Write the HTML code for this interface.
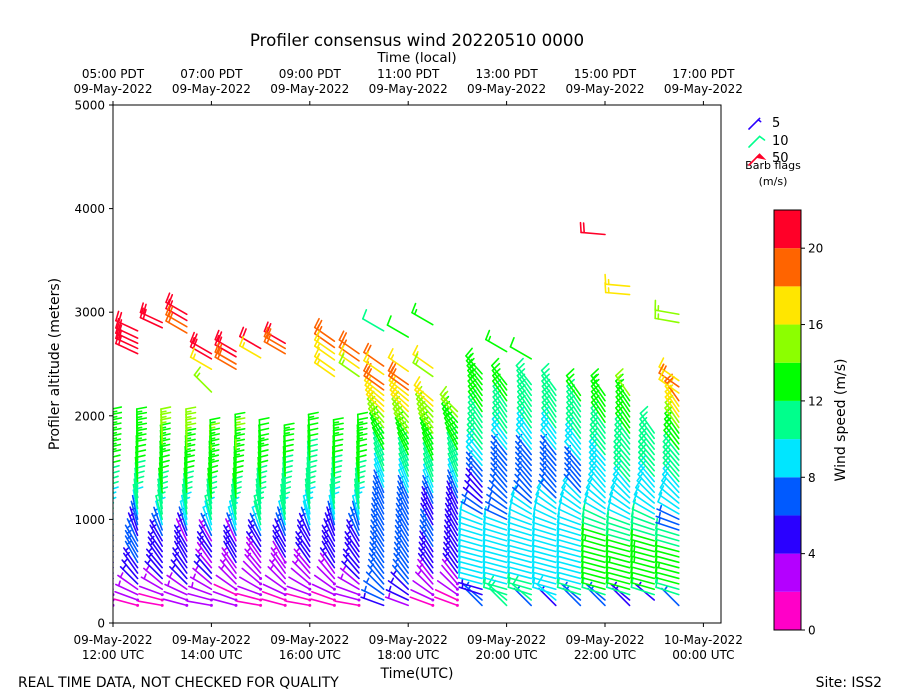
<!DOCTYPE html>
<html><head><meta charset="utf-8"><style>
body{margin:0;background:#fff;}
svg{display:block;font-family:"DejaVu Sans","Liberation Sans",sans-serif;}
</style></head><body>
<svg id="chart" width="900" height="700" viewBox="0 0 900 700" xmlns="http://www.w3.org/2000/svg">
<defs><clipPath id="pc"><rect x="113" y="105" width="608" height="518"/></clipPath></defs>
<text x="417" y="46" font-size="16.7" text-anchor="middle">Profiler consensus wind 20220510 0000</text>
<text x="417" y="62" font-size="13.5" text-anchor="middle">Time (local)</text>
<text x="417" y="678" font-size="14" text-anchor="middle">Time(UTC)</text>
<text x="18" y="687" font-size="13.9">REAL TIME DATA, NOT CHECKED FOR QUALITY</text>
<text x="882" y="687" font-size="13.9" text-anchor="end">Site: ISS2</text>
<text transform="translate(59,364) rotate(-90)" font-size="14" text-anchor="middle">Profiler altitude (meters)</text>
<text transform="translate(845,420) rotate(-90)" font-size="14" text-anchor="middle">Wind speed (m/s)</text>
<g id="barbs" clip-path="url(#pc)"></g>
<rect x="113" y="105" width="608" height="518" fill="none" stroke="#000" stroke-width="1"/>
<g id="axes"></g>
<g id="cbar"></g>
<g id="legend">
<text x="772" y="127" font-size="13">5</text>
<text x="772" y="145" font-size="13">10</text>
<text x="772" y="162" font-size="13">50</text>
<text x="773" y="169" font-size="11" text-anchor="middle">Barb flags</text>
<text x="773" y="185" font-size="11" text-anchor="middle">(m/s)</text>
</g>
</svg>
<script>
// ---- data ----
const colTimes = [0,0.5,1,1.5,2,2.5,3,3.5,4,4.5,5,5.5,6,6.5,7,7.5,8,8.5,9,9.5,10,10.5,11,11.5]; // hours after 12 UTC
const gateBase = 170, gateStep = 52;
const spd = [
[2,2,2,3,3,4,4,5,5,6,6,6,7,7,8,8,9,9,10,10,11,11,12,12,12,13,13,13,13,13,13,13,13],
[1,2,3,3,4,5,5,5,6,6,6,6,6,5,5,6,7,9,10,10,11,11,11,12,12,12,12,13,13,13,13,13,13],
[1,1,2,3,3,4,4,5,5,5,4,4,5,6,7,9,10,10,11,11,11,12,12,12,12,13,13,13,13,13,14,14,14],
[2,2,3,3,4,4,4,5,5,5,4,4,3,4,6,8,9,10,11,11,11,12,12,12,13,13,13,13,13,14,14,15,15],
[2,2,3,3,3,4,4,3,3,4,4,4,3,6,8,9,10,10,11,11,12,12,12,13,13,13,13,13,13,14,13,null,null],
[2,2,1,2,3,3,3,3,4,4,5,5,3,6,8,9,10,11,11,11,12,12,12,12,13,13,13,13,13,14,14,13,null],
[1,1,2,2,2,2,3,3,3,3,4,4,5,6,8,10,11,11,11,11,11,11,12,12,12,12,13,13,12,12,12,null,null],
[1,1,2,2,3,3,3,3,2,4,4,5,5,6,7,9,10,10,10,10,11,11,11,11,12,12,12,12,13,13,null,null,null],
[1,1,2,2,2,3,3,3,4,4,4,5,5,5,6,8,9,9,10,10,10,11,11,11,11,11,11,12,12,12,12,13,null],
[1,1,2,2,2,3,3,4,4,4,5,5,5,5,5,6,8,9,10,10,11,11,11,11,12,12,12,12,13,13,13,null,null],
[1,2,2,3,3,4,4,4,5,5,5,5,5,6,6,6,8,9,10,10,10,11,11,12,12,12,12,13,13,13,13,12,null],
[5,6,6,6,6,6,6,6,6,6,6,6,6,6,6,6,6,6,6,6,7,7,8,9,9,10,10,11,11,12,12,13,13,14,14,15,16,16,17,17,18,19],
[3,4,5,5,6,6,6,6,6,6,6,6,6,6,6,6,6,6,6,7,7,8,9,9,10,10,11,11,12,12,13,13,14,14,15,15,16,16,17,17,18,19],
[1,2,2,3,3,3,4,4,5,5,5,6,6,6,6,5,5,5,5,6,7,8,9,10,10,11,11,12,12,13,13,13,14,14,14,15,15,16,16],
[1,1,2,2,2,3,4,5,5,5,5,5,5,4,4,4,4,5,5,5,6,7,8,9,10,10,11,11,11,12,12,12,13,13,13,14,14],
[6,6,5,5,8,8,9,9,9,9,9,9,9,9,9,9,8,7,6,5,5,5,5,6,6,7,8,9,9,10,10,10,11,11,11,11,12,12,12,13,13,13,13,13],
[10,11,11,10,9,9,9,9,9,9,9,9,9,9,9,8,7,7,6,6,6,6,6,6,6,6,6,7,7,8,9,9,10,10,11,11,11,11,12,12,12,12],
[6,11,11,10,10,9,9,9,9,9,9,9,9,9,9,9,9,8,8,7,7,7,6,6,6,6,7,7,7,8,8,9,9,10,10,10,10,11,11,11,11,11],
[5,8,9,9,9,9,9,9,9,9,9,9,9,9,8,8,8,8,8,8,7,7,7,6,6,6,6,7,7,8,8,9,9,10,10,10,10,11,11,11,11],
[6,7,10,10,9,9,9,9,9,9,9,9,9,9,9,9,9,9,8,8,8,7,7,7,7,7,7,8,8,9,9,10,10,10,11,11,11,11,12,12],
[6,7,11,12,12,12,12,12,12,12,12,13,12,12,11,10,10,9,9,9,9,9,9,9,9,9,9,9,10,10,10,11,11,11,12,12,12,12,13,13],
[5,4,11,12,12,12,12,13,12,12,12,12,11,11,10,10,9,9,9,9,9,9,9,10,10,10,10,10,11,11,11,11,12,12,12,12,12,13,13,14],
[null,4,11,12,12,12,12,13,13,13,13,12,12,11,11,10,10,9,9,9,9,9,9,9,10,10,10,10,11,11,11,11,11,null],
[6,null,11,11,12,12,13,12,12,12,12,11,11,10,7,6,7,8,9,9,9,9,9,10,10,10,10,11,11,12,12,13,13,14,15,16,17,17,18]
];
const dirEarly = [280,285,290,300,310,315,320,320,325,325,325,330,330,335,340,345,345,350,350,350,352,352,354,354,355,355,355,356,356,356,357,357,357];
const dirEarly2 = [285,290,295,305,315,320,325,325,330,330,330,330,335,338,342,345,348,350,350,352,353,354,355,355,356,356,357,357,358,358,358,358,358];
const dirMid = [290,295,305,315,320,322,324,325,326,327,328,328,329,330,330,331,332,333,334,335,336,337,338,338,338,338,337,336,335,333,330,328,325,322,320,318,315,312,310,308,306,305];
const dirLate = [315,310,288,286,285,285,285,285,285,285,285,286,286,287,288,290,295,300,305,310,315,318,320,320,320,320,320,320,322,322,323,324,325,325,326,326,326,326,325,325,324,322,320,318];
const dirCol = [dirEarly,dirEarly2,dirEarly,dirEarly2,dirEarly,dirEarly2,dirEarly,dirEarly2,dirEarly,dirEarly2,dirEarly,dirMid,dirMid,dirMid,dirMid,dirLate,dirLate,dirLate,dirLate,dirLate,dirLate,dirLate,dirLate,dirLate];
// isolated upper-level barbs
const upT = [0.5,0.5,0.5,0.5,0.5,1,1,1.5,1.5,1.5,1.5,2,2,2,2,2.5,2.5,2.5,2.5,3,3,3.5,3.5,3.5,4.5,4.5,4.5,4.5,4.5,4.5,5,5,5,5,5.5,5.5,5.5,6,6,6.5,6.5,6.5,8,8.5,10,10.5,10.5,11.5,11.5,11.5,11.5,11.5];
const upH = [2600,2650,2700,2750,2820,2900,2850,2980,2920,2860,2800,2600,2550,2450,2230,2620,2570,2500,2450,2650,2560,2700,2650,2600,2720,2660,2600,2540,2440,2380,2600,2530,2460,2380,2820,2480,2400,2760,2430,2880,2460,2380,2620,2550,3750,3250,3170,2980,2900,2340,2280,2220];
const upS = [21,21,21,21,21,21,21,21,21,19,19,21,21,17,15,21,21,19,19,21,17,21,19,19,19,19,17,17,16,16,19,19,17,15,11,19,17,12,17,13,17,15,13,12,21,17,16,15,15,17,18,16];
const upD = [295,295,295,295,295,295,295,300,300,300,300,300,300,300,315,300,300,300,300,300,300,300,300,300,305,305,305,305,305,305,305,305,305,305,300,305,305,300,305,300,305,305,300,300,275,275,275,280,280,305,305,305];
const cbTicks = [0,4,8,12,16,20];
const cbColors = ["#ff00c8","#b400ff","#2a00ff","#005aff","#00e6ff","#00ff8c","#00ff00","#8cff00","#ffe600","#ff6400","#ff0028"];
const xTicksUTC = ["12:00 UTC","14:00 UTC","16:00 UTC","18:00 UTC","20:00 UTC","22:00 UTC","00:00 UTC"];
const xTicksDate = ["09-May-2022","09-May-2022","09-May-2022","09-May-2022","09-May-2022","09-May-2022","10-May-2022"];
const xTicksLocal = ["05:00 PDT","07:00 PDT","09:00 PDT","11:00 PDT","13:00 PDT","15:00 PDT","17:00 PDT"];
const yTicks = [0,1000,2000,3000,4000,5000];

// ---- scales ----
const NS="http://www.w3.org/2000/svg";
const xs = t => 113 + t*49.2;
const ys = h => 623 - h*518/5000;
const cbY = v => 630 - v*420/22;
const colorOf = s => cbColors[Math.max(0,Math.min(10,Math.floor(s/2)))];
function mk(tag, attrs, parent){const e=document.createElementNS(NS,tag);for(const k in attrs)e.setAttribute(k,attrs[k]);parent.appendChild(e);return e;}

const barbG=document.getElementById('barbs');
function barb(x,y,s,d,parent,L){
  L=L||24;
  const g=mk('g',{stroke:colorOf(s),'stroke-width':1.6,fill:'none','stroke-linecap':'round'},parent);
  
  
  const r=d*Math.PI/180, ux=Math.sin(r), uy=-Math.cos(r);
  const px=-uy, py=ux;
  const ex=x+ux*L, ey=y+uy*L;
  mk('line',{x1:x,y1:y,x2:ex,y2:ey},g);
  if(s<3){mk('circle',{cx:x,cy:y,r:1.5,fill:colorOf(s),stroke:'none'},g);}
  let v=Math.round(s/5)*5;
  let pos=0; const F=L*0.4, sp=L*0.13;
  const flags=Math.floor(v/50); v-=flags*50;
  for(let i=0;i<flags;i++){
    const bx=ex-ux*pos, by=ey-uy*pos;
    mk('polygon',{points:`${bx},${by} ${bx+px*F},${by+py*F} ${bx-ux*sp*2},${by-uy*sp*2}`,fill:colorOf(s)},g);
    pos+=sp*2.5;
  }
  const full=Math.floor(v/10); v-=full*10;
  for(let i=0;i<full;i++){
    const bx=ex-ux*pos, by=ey-uy*pos;
    mk('line',{x1:bx,y1:by,x2:bx+px*F+ux*F*0.15,y2:by+py*F+uy*F*0.15},g);
    pos+=sp;
  }
  if(v>=5){
    if(pos===0) pos=sp;
    const bx=ex-ux*pos, by=ey-uy*pos;
    mk('line',{x1:bx,y1:by,x2:bx+px*F*0.5+ux*F*0.07,y2:by+py*F*0.5+uy*F*0.07},g);
  }
}
colTimes.forEach((t,k)=>{
  spd[k].forEach((s,i)=>{
    if(s===null) return;
    const d=dirCol[k][Math.min(i,dirCol[k].length-1)];
    barb(xs(t), ys(gateBase+gateStep*i), s, d, barbG);
  });
});
upT.forEach((t,i)=>barb(xs(t),ys(upH[i]),upS[i],upD[i],barbG));

// ---- axes ----
const ax=document.getElementById('axes');
yTicks.forEach(v=>{
  const y=ys(v);
  const l=mk('line',{x1:109,y1:y,x2:113,y2:y,stroke:'#000'},ax);
  
  
  const t=mk('text',{x:105,y:y+4.5,'font-size':12,'text-anchor':'end'},ax);
  t.textContent=v;
  
  
});
xTicksUTC.forEach((lab,i)=>{
  const x=xs(i*2);
  const l=mk('line',{x1:x,y1:623,x2:x,y2:627,stroke:'#000'},ax);
  
  
  const l2=mk('line',{x1:x,y1:101,x2:x,y2:105,stroke:'#000'},ax);
  
  
  const t1=mk('text',{x:x,y:644,'font-size':12,'text-anchor':'middle'},ax);
  t1.textContent=xTicksDate[i];
  
  
  const t2=mk('text',{x:x,y:659,'font-size':12,'text-anchor':'middle'},ax);
  t2.textContent=lab;
  
  
  const t3=mk('text',{x:x,y:78,'font-size':12,'text-anchor':'middle'},ax);
  t3.textContent=xTicksLocal[i];
  
  
  const t4=mk('text',{x:x,y:93,'font-size':12,'text-anchor':'middle'},ax);
  t4.textContent="09-May-2022";
  
  
});

// ---- colorbar ----
const cb=document.getElementById('cbar');
cbColors.forEach((c,i)=>{
  const r=mk('rect',{x:774,y:cbY(i*2+2),width:27,height:cbY(i*2)-cbY(i*2+2),fill:c},cb);
  
  
});
mk('rect',{x:774,y:210,width:27,height:420,fill:'none',stroke:'#000'},cb);
cbTicks.forEach(v=>{
  const y=cbY(v);
  mk('line',{x1:801,y1:y,x2:805,y2:y,stroke:'#000'},cb);
  const t=mk('text',{x:808,y:y+4.5,'font-size':12},cb);
  t.textContent=v;
  
  
});

// ---- legend barbs ----
const lg=document.getElementById('legend');
barb(749,129,5,45,lg,15);
barb(749,147,10,45,lg,15);
barb(749,165,50,45,lg,15);
</script>
</body></html>
